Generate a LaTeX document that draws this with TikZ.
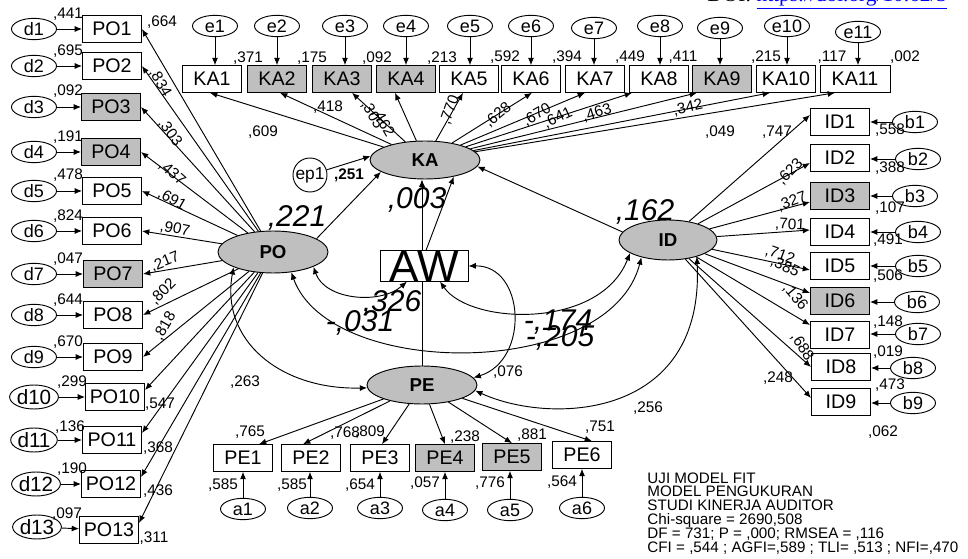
\documentclass[tikz,border=0pt]{standalone}
\usepackage{fontspec}
\setmainfont{Liberation Sans}
\newfontfamily\doifont{Liberation Serif}
\usetikzlibrary{shapes.geometric,arrows.meta,calc}
\begin{document}
\begin{tikzpicture}[x=0.75pt,y=-0.75pt,line width=0.7pt,
  >={Latex[length=5.5pt,width=4.5pt]},
  obs/.style={draw,rectangle,minimum width=44.25pt,minimum height=20pt,inner sep=0pt,font=\fontsize{14.75}{15}\selectfont},
  gry/.style={fill=black!25},
  err/.style={draw,ellipse,minimum width=33.75pt,minimum height=16pt,inner sep=0pt,font=\fontsize{13.5}{14}\selectfont},
  errb/.style={err,minimum width=32pt,minimum height=18pt,font=\fontsize{15.5}{16}\selectfont},
  lat/.style={draw,ellipse,fill=black!25,inner sep=0pt,font=\bfseries\fontsize{14}{15}\selectfont},
  lbl/.style={inner sep=0pt,font=\fontsize{11.5}{12}\selectfont},
  biglbl/.style={inner sep=0pt,font=\itshape\fontsize{22.5}{24}\selectfont},
  ld/.style={->},
  cv/.style={<->}
]
\useasboundingbox (0,0) rectangle (968,559);
\clip (0,0) rectangle (968,559);

% DOI line (cut at top)
\node[anchor=base west,inner sep=0pt,font=\doifont\fontsize{16}{16}\selectfont] (doi) at (707,1.5) {DOI: \textcolor{blue}{\underline{https://doi.org/10.62/3}}};

% ---------- latent variables ----------
\node[lat,minimum width=82.5pt,minimum height=31.5pt] (PO) at (273,252) {PO};
\node[lat,minimum width=82.5pt,minimum height=28.5pt] (KA) at (425,160) {KA};
\node[lat,minimum width=82.5pt,minimum height=28.5pt] (PE) at (422,385) {PE};
\node[lat,minimum width=73.5pt,minimum height=30pt] (ID) at (668,240) {ID};
\node[draw,circle,minimum size=25.5pt,inner sep=0pt,font=\fontsize{13}{14}\selectfont] (ep1) at (310,175) {ep1};

% ---------- PO column ----------
\node[err] (d1) at (34,29) {d1};
\node[err] (d2) at (34,66) {d2};
\node[err] (d3) at (34,107) {d3};
\node[err] (d4) at (34,152) {d4};
\node[err] (d5) at (34,191) {d5};
\node[err] (d6) at (34,231) {d6};
\node[err] (d7) at (34,274) {d7};
\node[err] (d8) at (34,315) {d8};
\node[err] (d9) at (34,357) {d9};
\node[errb] (d10) at (34,397) {d10};
\node[errb] (d11) at (34,440) {d11};
\node[errb] (d12) at (36,484) {d12};
\node[errb] (d13) at (37,527) {d13};

\node[obs] (po1) at (112,29) {PO1};
\node[obs] (po2) at (112,66) {PO2};
\node[obs,gry] (po3) at (111,107) {PO3};
\node[obs,gry] (po4) at (111,152) {PO4};
\node[obs] (po5) at (112,191) {PO5};
\node[obs] (po6) at (112,231) {PO6};
\node[obs,gry] (po7) at (113,274) {PO7};
\node[obs] (po8) at (113,315) {PO8};
\node[obs] (po9) at (113,357) {PO9};
\node[obs] (po10) at (115,397) {PO10};
\node[obs] (po11) at (112,440) {PO11};
\node[obs] (po12) at (111,484) {PO12};
\node[obs] (po13) at (109,530) {PO13};

\foreach \i in {1,...,13} {\draw[ld] (d\i) -- (po\i);}

\node[lbl] at (68,14) {,441};
\node[lbl] at (68,51) {,695};
\node[lbl] at (68,91) {,092};
\node[lbl] at (68,137) {,191};
\node[lbl] at (68,175) {,478};
\node[lbl] at (68,216) {,824};
\node[lbl] at (68,259) {,047};
\node[lbl] at (68,300) {,644};
\node[lbl] at (68,342) {,670};
\node[lbl] at (72,382) {,299};
\node[lbl] at (70,427) {,136};
\node[lbl] at (72,469) {,190};
\node[lbl] at (67,514) {,097};

\draw[ld] (PO) -- (po1.east);
\draw[ld] (PO) -- (po2.east);
\draw[ld] (PO) -- (po3.east);
\draw[ld] (PO) -- (po4.east);
\draw[ld] (PO) -- (po5.east);
\draw[ld] (PO) -- (po6.east);
\draw[ld] (PO) -- (po7.east);
\draw[ld] (PO) -- (po8.east);
\draw[ld] (PO) -- (po9.east);
\draw[ld] (PO) -- ($(po10.east)+(0,-7)$);
\draw[ld] (PO) -- ($(po11.east)+(0,-7)$);
\draw[ld] (PO) -- ($(po12.east)+(0,-7)$);
\draw[ld] (PO) -- ($(po13.east)+(0,-7)$);

\node[lbl] at (162,22) {,664};
\node[lbl,rotate=-60] at (160,83) {,834};
\node[lbl,rotate=-54] at (170,133) {,303};
\node[lbl,rotate=-42] at (172,173) {,437};
\node[lbl,rotate=-30] at (172,200) {,691};
\node[lbl,rotate=-12] at (175,229) {,907};
\node[lbl,rotate=22] at (165,262) {,217};
\node[lbl,rotate=45] at (163,292) {,802};
\node[lbl,rotate=60] at (165,326) {,818};
\node[lbl] at (160,404) {,547};
\node[lbl] at (158,448) {,368};
\node[lbl] at (158,491) {,436};
\node[lbl] at (154,538) {,311};

% ---------- KA row ----------
\node[err] (e1) at (215,26) {e1};
\node[err] (e2) at (277,26) {e2};
\node[err] (e3) at (345,26) {e3};
\node[err] (e4) at (406,26) {e4};
\node[err] (e5) at (470,26) {e5};
\node[err] (e6) at (531,26) {e6};
\node[err] (e7) at (594,28) {e7};
\node[err] (e8) at (660,26) {e8};
\node[err] (e9) at (720,28) {e9};
\node[err] (e10) at (787,26) {e10};
\node[err] (e11) at (858,32) {e11};

\node[obs] (ka1) at (212,79) {KA1};
\node[obs,gry] (ka2) at (277,79) {KA2};
\node[obs,gry] (ka3) at (342,79) {KA3};
\node[obs,gry] (ka4) at (406,79) {KA4};
\node[obs] (ka5) at (469,79) {KA5};
\node[obs] (ka6) at (531,79) {KA6};
\node[obs] (ka7) at (595,79) {KA7};
\node[obs] (ka8) at (659,79) {KA8};
\node[obs,gry] (ka9) at (722,79) {KA9};
\node[obs] (ka10) at (786,79) {KA10};
\node[obs,minimum width=52.5pt] (ka11) at (855,79) {KA11};

\foreach \i in {1,...,11} {\draw[ld] (e\i) -- (e\i |- ka\i.north);}

\node[lbl] at (248,58) {,371};
\node[lbl] at (312,58) {,175};
\node[lbl] at (377,58) {,092};
\node[lbl] at (442,58) {,213};
\node[lbl] at (505,57) {,592};
\node[lbl] at (567,57) {,394};
\node[lbl] at (630,57) {,449};
\node[lbl] at (683,57) {,411};
\node[lbl] at (766,57) {,215};
\node[lbl] at (832,57) {,117};
\node[lbl] at (905,57) {,002};

\draw[ld] (KA) -- ($(ka1.south)+(-2,0)$);
\draw[ld] (KA) -- ($(ka2.south)+(3,0)$);
\draw[ld] (KA) -- ($(ka3.south)+(10,0)$);
\draw[ld] (KA) -- ($(ka4.south)+(-11,0)$);
\draw[ld] (KA) -- ($(ka5.south)+(-6,0)$);
\draw[ld] (KA) -- ($(ka6.south)+(1,0)$);
\draw[ld] (KA) -- ($(ka7.south)+(-10,0)$);
\draw[ld] (KA) -- ($(ka8.south)+(-27,0)$);
\draw[ld] (KA) -- ($(ka9.south)+(-25,0)$);
\draw[ld] (KA) -- ($(ka10.south)+(-16,0)$);
\draw[ld] (KA) -- ($(ka11.south)+(-20,0)$);

\node[lbl] at (263,132) {,609};
\node[lbl] at (328,107) {,418};
\node[lbl,rotate=-60] at (372,115) {,305};
\node[lbl,rotate=-60] at (383,123) {,462};
\node[lbl,rotate=70] at (450,110) {,770};
\node[lbl,rotate=40] at (498,115) {,628};
\node[lbl,rotate=30] at (537,115) {,670};
\node[lbl,rotate=25] at (558,118) {,641};
\node[lbl,rotate=17] at (597,113) {,463};
\node[lbl,rotate=12] at (688,108) {,342};
\node[lbl] at (720,132) {,049};

% ---------- ID column ----------
\node[obs] (id1) at (840,122) {ID1};
\node[obs] (id2) at (840,158) {ID2};
\node[obs,gry] (id3) at (840,196) {ID3};
\node[obs] (id4) at (840,232) {ID4};
\node[obs] (id5) at (840,266) {ID5};
\node[obs,gry] (id6) at (840,301) {ID6};
\node[obs] (id7) at (840,335) {ID7};
\node[obs] (id8) at (841,367) {ID8};
\node[obs] (id9) at (841,402) {ID9};

\node[err] (b1) at (915,122) {b1};
\node[err] (b2) at (918,159) {b2};
\node[err] (b3) at (915,196) {b3};
\node[err] (b4) at (918,232) {b4};
\node[err] (b5) at (918,266) {b5};
\node[err] (b6) at (917,302) {b6};
\node[err] (b7) at (918,334) {b7};
\node[err] (b8) at (913,368) {b8};
\node[err] (b9) at (913,403) {b9};

\foreach \i in {1,...,9} {\draw[ld] (b\i) -- (b\i -| id\i.east);}

\node[lbl] at (890,130) {,558};
\node[lbl] at (890,168) {,388};
\node[lbl] at (890,208) {,107};
\node[lbl] at (888,240) {,491};
\node[lbl] at (888,276) {,506};
\node[lbl] at (888,322) {,148};
\node[lbl] at (888,352) {,019};
\node[lbl] at (890,385) {,473};
\node[lbl] at (883,432) {,062};

\draw[ld] (ID) -- ($(id1.west)+(0,-7)$);
\draw[ld] (ID) -- ($(id2.west)+(0,5)$);
\draw[ld] (ID) -- ($(id3.west)+(0,6)$);
\draw[ld] (ID) -- ($(id4.west)+(0,-2)$);
\draw[ld] (ID) -- ($(id5.west)+(0,4)$);
\draw[ld] (ID) -- ($(id6.west)+(0,-8)$);
\draw[ld] (ID) -- ($(id7.west)+(0,-10)$);
\draw[ld] (ID) -- (id8.west);
\draw[ld] (ID) -- ($(id9.west)+(0,-4)$);

\node[lbl] at (777,132) {,747};
\node[lbl,rotate=45] at (790,172) {,623};
\node[lbl,rotate=20] at (792,202) {,327};
\node[lbl,rotate=-3] at (790,225) {,701};
\node[lbl,rotate=-20] at (780,255) {,712};
\node[lbl,rotate=-25] at (785,267) {,385};
\node[lbl,rotate=-50] at (795,297) {,136};
\node[lbl,rotate=-58] at (802,347) {,688};
\node[lbl] at (778,378) {,248};

% ---------- PE row ----------
\node[obs] (pe1) at (243,458) {PE1};
\node[obs] (pe2) at (311,458) {PE2};
\node[obs] (pe3) at (380,458) {PE3};
\node[obs,gry] (pe4) at (445,458) {PE4};
\node[obs,gry] (pe5) at (512,457) {PE5};
\node[obs] (pe6) at (582,455) {PE6};

\node[err] (a1) at (243,509) {a1};
\node[err] (a2) at (310,508) {a2};
\node[err] (a3) at (380,508) {a3};
\node[err] (a4) at (445,510) {a4};
\node[err] (a5) at (510,510) {a5};
\node[err] (a6) at (582,508) {a6};

\foreach \i in {1,...,6} {\draw[ld] (a\i) -- (a\i |- pe\i.south);}

\draw[ld] (PE) -- ($(pe1.north)+(16,0)$);
\draw[ld] (PE) -- ($(pe2.north)+(-8,0)$);
\draw[ld] (PE) -- ($(pe3.north)+(2,0)$);
\draw[ld] (PE) -- (pe4.north);
\draw[ld] (PE) -- (pe5.north);
\draw[ld] (PE) -- ($(pe6.north)+(10,0)$);

\node[lbl] at (250,432) {,765};
\node[lbl] at (345,433) {,768};
\node[lbl] at (370,432) {,809};
\node[lbl] at (465,437) {,238};
\node[lbl] at (532,435) {,881};
\node[lbl] at (600,427) {,751};
\node[lbl] at (223,485) {,585};
\node[lbl] at (292,485) {,585};
\node[lbl] at (360,485) {,654};
\node[lbl] at (425,483) {,057};
\node[lbl] at (490,483) {,776};
\node[lbl] at (562,482) {,564};

% ---------- structural part ----------
\draw[ld] (PE.north) -- (PE.north |- KA.south);
\node[draw,fill=white,minimum width=66pt,minimum height=21.75pt,inner sep=0pt,font=\fontsize{33}{33}\selectfont] (AW) at (424,266) {AW};

\draw[ld] (PO.17) -- (KA.195);
\draw[ld] (ep1) -- (KA.176);
\draw[ld] ($(AW.north)+(2,0)$) -- (KA.330);
\draw[ld] (ID.170) -- (KA.353);

\draw[cv] (PO.340) .. controls (325,300) and (380,305) .. ($(AW.south)+(-17,0)$);
\draw[cv] (PO.201) .. controls (220,340) and (280,390) .. (PE.183);
\draw[cv] (PO.312) .. controls (330,380) and (610,380) .. (ID.213);
\draw[cv] ($(AW.south)+(16,0)$) .. controls (470,325) and (600,330) .. (ID.199);
\draw[cv] (AW.east) .. controls (525,265) and (530,360) .. (PE.8);
\draw[cv] (PE.354) .. controls (550,425) and (705,420) .. (ID.330);

\node[lbl,font=\bfseries\fontsize{11.5}{12}\selectfont] at (349,175) {,251};
\node[biglbl] at (297,218) {,221};
\node[biglbl] at (417,200) {,003};
\node[biglbl] at (645,212) {,162};
\node[biglbl] at (392,303) {,326};
\node[biglbl] at (360,323) {-,031};
\node[biglbl] at (558,322) {-,174};
\node[biglbl] at (560,338) {-,205};
\node[lbl] at (245,382) {,263};
\node[lbl] at (508,372) {,076};
\node[lbl] at (648,408) {,256};

% ---------- fit block ----------
\node[anchor=north west,align=left,inner sep=0pt,font=\fontsize{11.4}{10.35}\selectfont] (fit) at (647,472) {UJI MODEL FIT\\MODEL PENGUKURAN\\STUDI KINERJA AUDITOR\\Chi-square = 2690,508\\DF = 731; P = ,000; RMSEA = ,116\\CFI = ,544 ; AGFI=,589 ; TLI= ,513 ; NFI=,470};
\end{tikzpicture}
\end{document}
